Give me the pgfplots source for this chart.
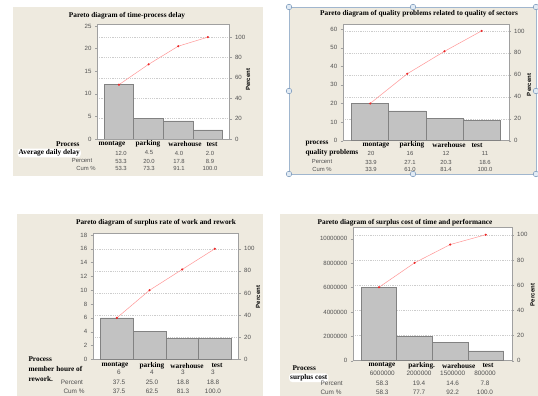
\documentclass[border=0pt]{standalone}
\usepackage{fontspec}
\setmainfont{Liberation Serif}
\setsansfont{Liberation Sans}
\usepackage{pgfplots}
\usepackage{pgfplotstable}
\pgfplotsset{compat=1.18}

\definecolor{beige}{RGB}{238,234,223}
\definecolor{axgray}{RGB}{160,160,160}
\definecolor{tickgray}{RGB}{80,80,80}
\definecolor{barfill}{RGB}{194,194,194}
\definecolor{bardraw}{RGB}{130,130,130}
\definecolor{linepink}{RGB}{255,150,150}
\definecolor{markred}{RGB}{235,40,40}
\definecolor{gridgray}{RGB}{205,205,205}
\definecolor{hfill}{RGB}{225,235,245}
\definecolor{hdraw}{RGB}{120,150,185}

\newcommand\ttl{\fontsize{7.3}{8}\selectfont\rmfamily\bfseries}
\newcommand\lbl{\fontsize{7.3}{8}\selectfont\rmfamily\bfseries}
\newcommand\num{\fontsize{5.9}{6.5}\selectfont\sffamily\color{tickgray}}
\newcommand\numb{\fontsize{6.4}{7}\selectfont\sffamily\color{tickgray}}
\newcommand\ticksf{\fontsize{6.1}{7}\selectfont\sffamily}
\newcommand\pct{\fontsize{6}{7}\selectfont\sffamily\bfseries}

\pgfplotstableread{
x val cum
1 12.0 53.3
2 4.5 73.3
3 4.0 91.1
4 2.0 100.0
}\tA
\pgfplotstableread{
x val cum
1 20 33.9
2 16 61.0
3 12 81.4
4 11 100.0
}\tB
\pgfplotstableread{
x val cum
1 6 37.5
2 4 62.5
3 3 81.3
4 3 100.0
}\tC
\pgfplotstableread{
x val cum
1 6000000 58.3
2 2000000 77.7
3 1500000 92.2
4 800000 100.0
}\tD

\pgfplotsset{
  pbase/.style={scale only axis, anchor=south west, xmin=0.26, xmax=4.73, ymin=0,
    axis line style={draw=axgray}, tick align=outside,
    major tick length=2pt, tick style={draw=axgray},
    tick label style={font=\ticksf, text=tickgray},
    /pgf/number format/assume math mode=true,
    /pgf/number format/fixed, /pgf/number format/1000 sep={},
    scaled y ticks=false, xtick=\empty},
}

% #1 x, #2 y, #3 w, #4 h, #5 left ymax, #6 left ticks, #7 right ymax, #8 table
\newcommand{\pareto}[8]{%
\begin{axis}[pbase, at={(#1pt,#2pt)}, width=#3pt, height=#4pt, ymax=#7,
  axis y line*=right, axis x line=none, ytick={0,20,...,100},
  ymajorgrids, grid style={gridgray, dash pattern=on 1.2pt off 1pt},
  axis background/.style={fill=white}]
\end{axis}
\begin{axis}[pbase, at={(#1pt,#2pt)}, width=#3pt, height=#4pt, ymax=#5,
  ytick={#6}, ytick pos=left]
\addplot[ybar, bar width=1, fill=barfill, draw=bardraw, line width=0.7pt] table[x=x,y=val]{#8};
\end{axis}
\begin{axis}[pbase, at={(#1pt,#2pt)}, width=#3pt, height=#4pt, ymax=#7, hide axis]
\addplot[linepink, line width=0.5pt, mark=*, mark size=0.8pt, mark options={fill=markred, draw=markred}] table[x=x,y=cum]{#8};
\end{axis}}

\newcommand\T[4][]{\node[#1] at (#2pt,#3pt) {#4};}

\begin{document}
\begin{tikzpicture}
\path[use as bounding box, fill=white] (0pt,0pt) rectangle (538pt,396pt);
% backgrounds
\fill[beige] (13pt,220pt) rectangle (263pt,389pt);
\fill[beige] (289pt,222pt) rectangle (536pt,389pt);
\draw[hdraw!70, line width=0.6pt] (289pt,222pt) rectangle (536pt,389pt);
\fill[beige] (17pt,0pt) rectangle (263pt,182pt);
\fill[beige] (280pt,0pt) rectangle (538pt,182pt);

% Panel 1
\pareto{97}{257}{132.5}{115}{25.44}{0,5,...,25}{112.9}{\tA}
\T[font=\pct, rotate=90]{248}{316}{Percent}
\T[font=\ttl]{127}{380}{Pareto diagram of time-process delay}
\T[font=\lbl, anchor=east]{83}{252}{Process}
\T[font=\lbl]{112}{252}{montage}
\T[font=\lbl]{148}{252}{parking}
\T[font=\lbl]{185}{252}{warehouse}
\T[font=\lbl]{212}{252}{test}
\T[font=\lbl, anchor=east, fill=white, inner sep=1pt, rounded corners=3pt]{81}{243}{Average daily delay}
\T[font=\num]{82}{235}{Percent}
\T[font=\num]{86}{228}{Cum \%}
\foreach \xx/\a/\b/\c in {121/12.0/53.3/53.3, 149/4.5/20.0/73.3, 179/4.0/17.8/91.1, 210/2.0/8.9/100.0}{
  \T[font=\num]{\xx}{243}{\a}
  \T[font=\num]{\xx}{235}{\b}
  \T[font=\num]{\xx}{228}{\c}
}

% Panel 2
\pareto{342.7}{255.3}{166}{116.7}{62.7}{0,10,...,60}{106.3}{\tB}
\T[font=\pct, rotate=90]{529}{311}{Percent}
\T[font=\ttl]{419}{382}{Pareto diagram of quality problems related to quality of sectors}
\T[font=\lbl, anchor=west]{302}{252}{process}
\T[font=\lbl]{376}{251}{montage}
\T[font=\lbl]{412}{251}{parking}
\T[font=\lbl]{449}{251}{warehouse}
\T[font=\lbl]{477}{251}{test}
\T[font=\lbl, anchor=west]{302}{243}{quality problems}
\T[font=\num]{322}{234}{Percent}
\T[font=\num]{322}{227}{Cum \%}
\foreach \xx/\a/\b/\c in {371/20/33.9/33.9, 410/16/27.1/61.0, 446/12/20.3/81.4, 485/11/18.6/100.0}{
  \T[font=\num]{\xx}{243}{\a}
  \T[font=\num]{\xx}{234}{\b}
  \T[font=\num]{\xx}{227}{\c}
}
\foreach \px/\py in {289/389,413/389,536/389,289/305,536/305,289/222,413/222,536/222}{
  \filldraw[fill=hfill, draw=hdraw, line width=0.5pt] (\px pt,\py pt) circle (2.8pt);
}

% Panel 3
\pareto{92.7}{36.7}{146}{126}{18.24}{0,2,...,18}{114}{\tC}
\T[font=\pct, rotate=90]{258}{99}{Percent}
\T[font=\ttl]{156}{173.3}{Pareto diagram of surplus rate of work and rework}
\T[font=\lbl, anchor=west]{25}{36.7}{Process}
\T[font=\lbl, anchor=west]{25}{27}{member houre of}
\T[font=\lbl, anchor=west]{25}{17}{rework.}
\T[font=\lbl]{115}{30.3}{montage}
\T[font=\lbl]{152}{30.3}{parking}
\T[font=\lbl]{187}{30.3}{warehouse}
\T[font=\lbl]{217}{30.3}{test}
\T[font=\numb]{72}{13.7}{Percent}
\T[font=\numb]{74}{4.3}{Cum \%}
\foreach \xx/\a/\b/\c in {119/6/37.5/37.5, 152/4/25.0/62.5, 183/3/18.8/81.3, 213/3/18.8/100.0}{
  \T[font=\numb]{\xx}{23.7}{\a}
  \T[font=\numb]{\xx}{13.7}{\b}
  \T[font=\numb]{\xx}{4.3}{\c}
}

% Panel 4
\pareto{352.7}{35.3}{159}{133.4}{10935000}{0,2000000,4000000,6000000,8000000,10000000}{105.9}{\tD}
\T[font=\pct, rotate=90]{532.5}{101}{Percent}
\T[font=\ttl]{405}{173.7}{Pareto diagram of surplus cost of time and performance}
\T[font=\lbl, anchor=west]{289}{28.3}{Process}
\T[font=\lbl, anchor=west, fill=white, inner sep=1pt, rounded corners=3pt]{289}{18.3}{surplus cost}
\T[font=\lbl]{382}{30.3}{montage}
\T[font=\lbl]{421.7}{30.3}{parking.}
\T[font=\lbl]{458.7}{30.3}{warehouse}
\T[font=\lbl]{488}{30.3}{test}
\T[font=\numb]{331.7}{12.3}{Percent}
\T[font=\numb]{331}{3.6}{Cum \%}
\foreach \xx/\a/\b/\c in {382.3/6000000/58.3/58.3, 419/2000000/19.4/77.7, 452.7/1500000/14.6/92.2, 485/800000/7.8/100.0}{
  \T[font=\numb]{\xx}{22.7}{\a}
  \T[font=\numb]{\xx}{12.3}{\b}
  \T[font=\numb]{\xx}{3.6}{\c}
}
\end{tikzpicture}
\end{document}
